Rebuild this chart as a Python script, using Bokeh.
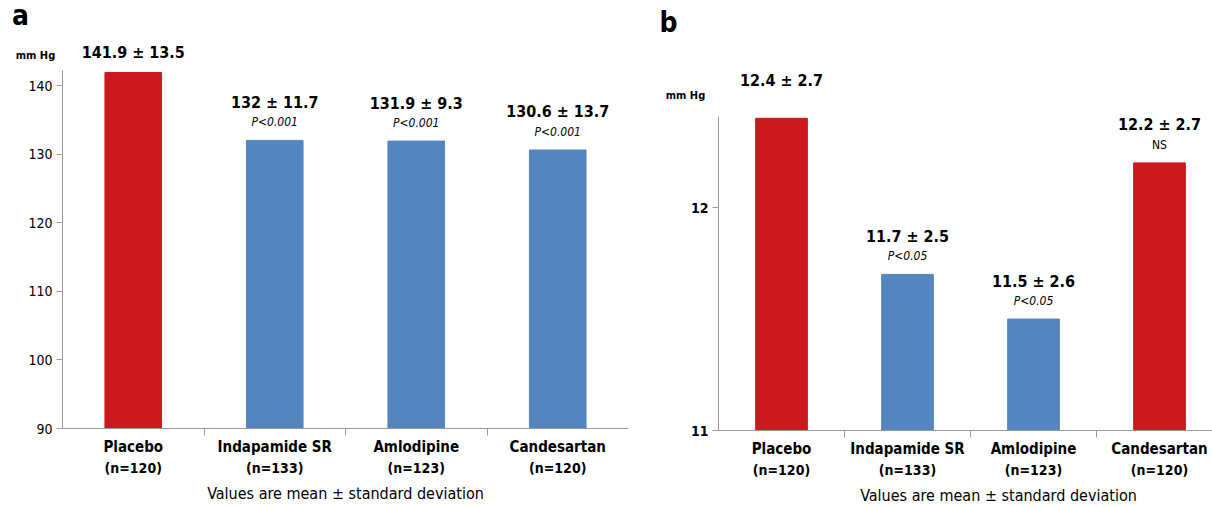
from bokeh.plotting import figure
from bokeh.models import ColumnDataSource, LabelSet, Label, FixedTicker, Range1d
from bokeh.core.properties import value
from bokeh.layouts import row
from bokeh.embed import file_html
from bokeh.resources import INLINE

# ---- data ----
categories = ["Placebo", "Indapamide SR", "Amlodipine", "Candesartan"]
group_n = ["(n=120)", "(n=133)", "(n=123)", "(n=120)"]

a_mean = [141.9, 132.0, 131.9, 130.6]
a_sd = [13.5, 11.7, 9.3, 13.7]
a_p = [None, "P<0.001", "P<0.001", "P<0.001"]

b_mean = [12.4, 11.7, 11.5, 12.2]
b_sd = [2.7, 2.5, 2.6, 2.7]
b_p = ["", "P<0.05", "P<0.05", "NS"]

a_ticks = [90, 100, 110, 120, 130, 140]
b_ticks = [11, 12]

RED = "#CC181E"
BLUE = "#5585BF"
a_colors = [RED, BLUE, BLUE, BLUE]
b_colors = [RED, BLUE, BLUE, RED]

FONT = "DejaVu Sans Condensed"
AXIS_COL = "#9a9a9a"
H = 506


def panel(letter, means, sds, ps, colors, ticks, y_start, y_axis_top,
          width, axis_px, bottom_px, px_x, px_y, x_axis_end,
          bar_w, letter_off, unit_off, note_xoff, tick_bold):
    n = len(categories)
    xs = [i + 0.5 for i in range(n)]
    vals = [f"{m:g} \u00b1 {s:g}" for m, s in zip(means, sds)]
    voff = [20 if p is None else 38 for p in ps]
    pt = ["" if p is None else p for p in ps]
    pstyle = ["normal" if p == "NS" else "italic" for p in pt]
    src = ColumnDataSource(dict(x=xs, top=means, color=colors, val=vals,
                                voff=voff, p=pt, pstyle=pstyle,
                                cat=categories, n=group_n))

    # ranges chosen so that the frame fills the whole figure
    x0 = -axis_px / px_x
    x1 = (width - axis_px) / px_x
    y0 = y_start - (H - bottom_px) / px_y
    y1 = y_start + bottom_px / px_y

    p = figure(width=width, height=H, output_backend="svg",
               toolbar_location=None, x_range=Range1d(x0, x1),
               y_range=Range1d(y0, y1),
               min_border=0, min_border_left=0, min_border_right=0,
               min_border_top=0, min_border_bottom=0)
    p.outline_line_color = None
    p.xgrid.visible = False
    p.ygrid.visible = False

    p.vbar(x="x", top="top", bottom=y_start, width=bar_w, color="color",
           source=src)

    # axes, drawn inside the frame at fixed positions
    ya = p.yaxis[0]
    ya.fixed_location = 0
    ya.ticker = FixedTicker(ticks=ticks)
    ya.bounds = (y_start, y_axis_top)
    ya.axis_line_color = AXIS_COL
    ya.major_tick_line_color = AXIS_COL
    ya.major_tick_out = 6
    ya.major_tick_in = 0
    ya.minor_tick_line_color = None
    ya.major_label_text_font = FONT
    ya.major_label_text_font_size = "14px"
    ya.major_label_text_color = "black"
    ya.major_label_standoff = 4
    if tick_bold:
        ya.major_label_text_font_style = "bold"

    xa = p.xaxis[0]
    xa.fixed_location = y_start
    xa.bounds = (0, x_axis_end)
    xa.ticker = FixedTicker(ticks=[1, 2, 3])
    xa.major_label_overrides = {1: "", 2: "", 3: ""}
    xa.axis_line_color = AXIS_COL
    xa.major_tick_line_color = AXIS_COL
    xa.major_tick_out = 7
    xa.major_tick_in = 0
    xa.minor_tick_line_color = None

    f = value(FONT)
    # value labels
    p.add_layout(LabelSet(x="x", y="top", text="val", y_offset="voff",
                          source=src, text_align="center",
                          text_baseline="middle", text_font=f,
                          text_font_size="16px", text_font_style="bold",
                          text_color="black"))
    p.add_layout(LabelSet(x="x", y="top", text="p", y_offset=18,
                          source=src, text_align="center",
                          text_baseline="middle", text_font=f,
                          text_font_size="12px", text_font_style="pstyle",
                          text_color="black"))
    # category labels
    p.add_layout(LabelSet(x="x", y=y_start, text="cat", y_offset=-18,
                          source=src, text_align="center",
                          text_baseline="middle", text_font=f,
                          text_font_size="15px", text_font_style="bold",
                          text_color="black"))
    p.add_layout(LabelSet(x="x", y=y_start, text="n", y_offset=-39,
                          source=src, text_align="center",
                          text_baseline="middle", text_font=f,
                          text_font_size="14px", text_font_style="bold",
                          text_color="black"))
    p.add_layout(Label(x=2, y=y_start, x_offset=note_xoff, y_offset=-65,
                       text="Values are mean \u00b1 standard deviation",
                       text_align="center", text_baseline="middle",
                       text_font=FONT, text_font_size="16px",
                       text_color="black"))
    p.add_layout(Label(x=0, y=y1, x_offset=letter_off[0],
                       y_offset=letter_off[1], text=letter,
                       text_align="center", text_baseline="middle",
                       text_font=FONT, text_font_size="28px",
                       text_font_style="bold", text_color="black"))
    p.add_layout(Label(x=0, y=y1, x_offset=unit_off[0],
                       y_offset=unit_off[1], text="mm Hg",
                       text_align="center", text_baseline="middle",
                       text_font=FONT, text_font_size="11px",
                       text_font_style="bold", text_color="black"))
    return p


pa = panel("a", a_mean, a_sd, a_p, a_colors, a_ticks, 90, 142.2,
           640, 62, 428, 141.5, 6.86, 4.0, 0.4, (-42, -15), (-27, -55), 0,
           False)
pb = panel("b", b_mean, b_sd, b_p, b_colors, b_ticks, 11, 12.41,
           572, 78, 430, 126.0, 223.0, 3.92, 0.41, (-50, -22), (-33, -95),
           28, True)

layout = row(pa, pb)
open("out.html", "w").write(file_html(layout, INLINE))
